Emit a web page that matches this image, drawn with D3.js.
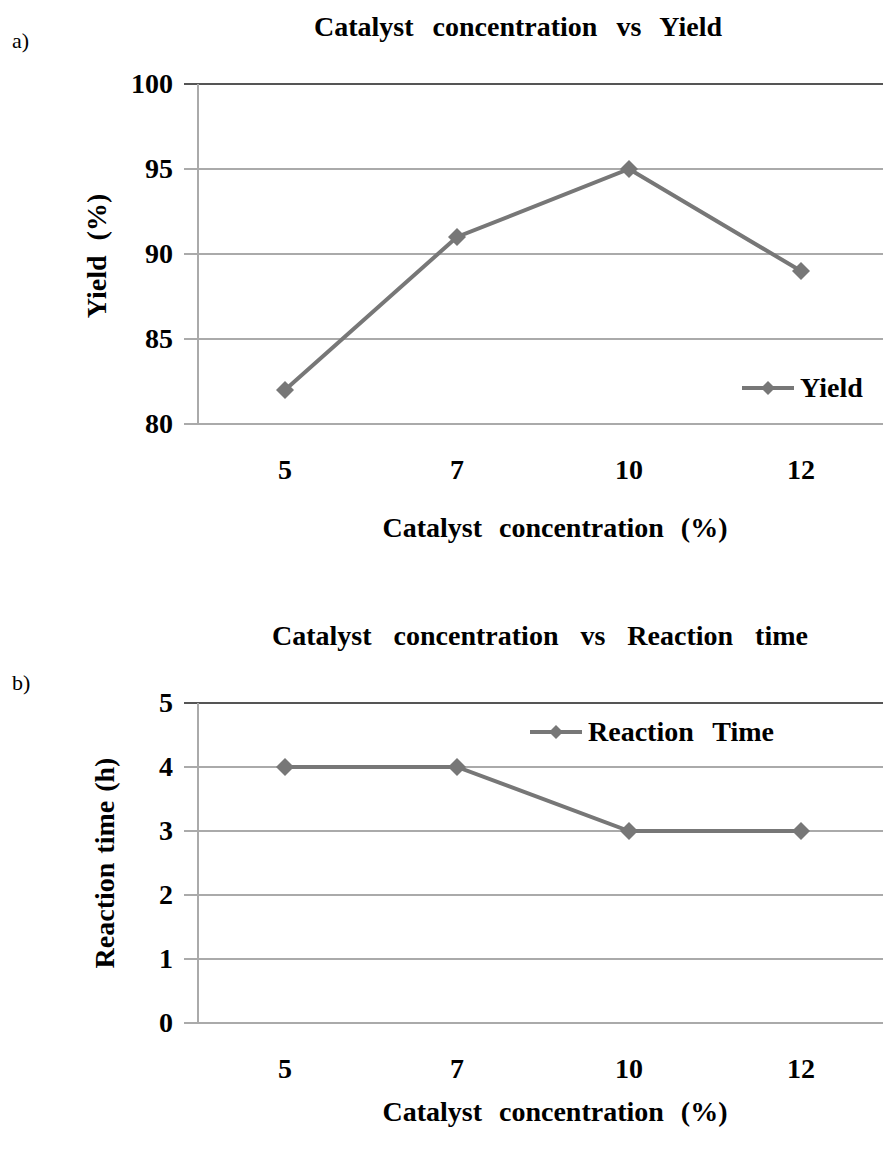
<!DOCTYPE html>
<html lang="en">
<head>
<meta charset="UTF-8">
<title>Catalyst concentration</title>
<style>
  body { margin: 0; background: #fff; }
</style>
</head>
<body>
<svg id="chart" width="883" height="1153"></svg>
<script src="https://d3js.org/d3.v7.min.js"></script>
<script>
const categories = ["5", "7", "10", "12"];
const yieldValues = [82, 91, 95, 89];
const timeValues = [4, 4, 3, 3];
const yieldTicks = [80, 85, 90, 95, 100];
const timeTicks = [0, 1, 2, 3, 4, 5];

const svg = d3.select("#chart");
const lineColor = "#777";
const FONT = "Liberation Serif";

// bold serif text helper (fonts set as attributes)
function label(g, txt, size, ws) {
  return g.append("text")
    .attr("font-family", FONT)
    .attr("font-weight", "bold")
    .attr("font-size", size)
    .attr("word-spacing", ws || 0)
    .text(txt);
}

function diamond(g, x, y, r) {
  g.append("path")
    .attr("d", `M${x},${y - r}L${x + r},${y}L${x},${y + r}L${x - r},${y}Z`)
    .attr("fill", lineColor);
}

function drawPanel(opt) {
  const g = svg.append("g");
  const x = d3.scalePoint().domain(categories).range([199, 887]).padding(0.5);
  const y = d3.scaleLinear().domain(opt.domain).range([opt.bottom, opt.top]);

  // gridlines + ticks
  g.selectAll(".grid")
    .data(opt.ticks)
    .join("line")
    .attr("x1", 184).attr("x2", 883)
    .attr("y1", d => y(d)).attr("y2", d => y(d))
    .attr("stroke", d => d === opt.domain[1] ? "#555" : "#aaa")
    .attr("stroke-width", 2);

  // y axis
  g.append("line")
    .attr("x1", 198).attr("x2", 198)
    .attr("y1", opt.top).attr("y2", opt.bottom)
    .attr("stroke", "#aaa").attr("stroke-width", 2);

  g.selectAll(".ylab")
    .data(opt.ticks)
    .join("text")
    .attr("font-family", FONT).attr("font-weight", "bold").attr("font-size", 28)
    .attr("x", 173)
    .attr("y", d => y(d))
    .attr("dy", "0.33em")
    .attr("text-anchor", "end")
    .text(d => d);

  g.selectAll(".xlab")
    .data(categories)
    .join("text")
    .attr("font-family", FONT).attr("font-weight", "bold").attr("font-size", 28)
    .attr("x", d => x(d))
    .attr("y", opt.bottom + 55)
    .attr("text-anchor", "middle")
    .text(d => d);

  // series line
  const line = d3.line().x((d, i) => x(categories[i])).y(d => y(d));
  g.append("path")
    .datum(opt.values)
    .attr("d", line)
    .attr("fill", "none")
    .attr("stroke", lineColor)
    .attr("stroke-width", 4);
  opt.values.forEach((v, i) => diamond(g, x(categories[i]), y(v), 9));

  // legend
  g.append("line")
    .attr("x1", opt.legend[0]).attr("x2", opt.legend[0] + 52)
    .attr("y1", opt.legend[1]).attr("y2", opt.legend[1])
    .attr("stroke", lineColor).attr("stroke-width", 4);
  diamond(g, opt.legend[0] + 26, opt.legend[1], 7);
  label(g, opt.name, 28, 12)
    .attr("x", opt.legend[0] + 58)
    .attr("y", opt.legend[1])
    .attr("dy", "0.33em");

  // titles
  label(g, opt.title, 28, opt.titleWs)
    .attr("x", opt.titleX).attr("y", opt.titleY)
    .attr("text-anchor", "middle");

  label(g, "Catalyst concentration (%)", 28, 10)
    .attr("x", 555).attr("y", opt.xTitleY)
    .attr("text-anchor", "middle");

  label(g, opt.yName, 28, opt.yWs)
    .attr("transform", `translate(${opt.yTitle[0]},${opt.yTitle[1]}) rotate(-90)`)
    .attr("text-anchor", "middle")
    .attr("dy", "0.33em");

  g.append("text")
    .attr("font-family", FONT).attr("font-size", 22)
    .attr("x", 12).attr("y", opt.tagY)
    .text(opt.tag);
}

drawPanel({
  domain: [80, 100], ticks: yieldTicks, values: yieldValues,
  top: 84, bottom: 424,
  legend: [742, 388], name: "Yield",
  title: "Catalyst concentration vs Yield", titleX: 518, titleY: 36, titleWs: 12,
  xTitleY: 537, yName: "Yield (%)", yTitle: [97, 256], yWs: 8,
  tag: "a)", tagY: 48
});

drawPanel({
  domain: [0, 5], ticks: timeTicks, values: timeValues,
  top: 703, bottom: 1023,
  legend: [530, 732], name: "Reaction Time",
  title: "Catalyst concentration vs Reaction time", titleX: 540, titleY: 645, titleWs: 15,
  xTitleY: 1121, yName: "Reaction time (h)", yTitle: [105, 863], yWs: 2,
  tag: "b)", tagY: 690
});
</script>
</body>
</html>
